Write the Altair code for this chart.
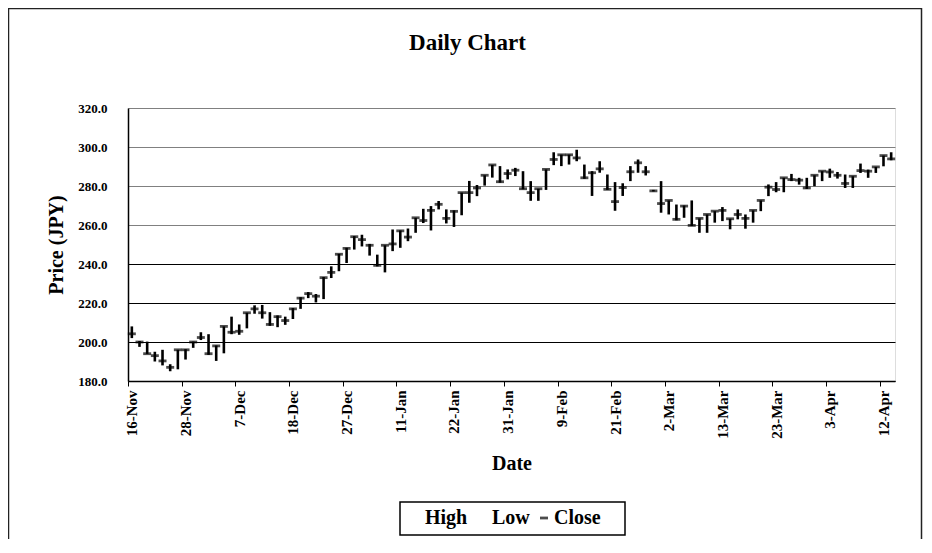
import altair as alt
import pandas as pd
import numpy as np

# ---------------- data ----------------
dates = [
    "16-Nov", "17-Nov", "20-Nov", "21-Nov", "22-Nov", "24-Nov", "27-Nov",
    "28-Nov", "29-Nov", "30-Nov", "1-Dec", "4-Dec", "5-Dec", "6-Dec",
    "7-Dec", "8-Dec", "11-Dec", "12-Dec", "13-Dec", "14-Dec", "15-Dec",
    "18-Dec", "19-Dec", "20-Dec", "21-Dec", "22-Dec", "25-Dec", "26-Dec",
    "27-Dec", "28-Dec", "29-Dec", "4-Jan", "5-Jan", "9-Jan", "10-Jan",
    "11-Jan", "12-Jan", "15-Jan", "16-Jan", "17-Jan", "18-Jan", "19-Jan",
    "22-Jan", "23-Jan", "24-Jan", "25-Jan", "26-Jan", "29-Jan", "30-Jan",
    "31-Jan", "1-Feb", "2-Feb", "5-Feb", "6-Feb", "7-Feb", "8-Feb",
    "9-Feb", "13-Feb", "14-Feb", "15-Feb", "16-Feb", "19-Feb", "20-Feb",
    "21-Feb", "22-Feb", "23-Feb", "26-Feb", "27-Feb", "28-Feb", "1-Mar",
    "2-Mar", "5-Mar", "6-Mar", "7-Mar", "8-Mar", "9-Mar", "12-Mar",
    "13-Mar", "14-Mar", "15-Mar", "16-Mar", "19-Mar", "21-Mar", "22-Mar",
    "23-Mar", "26-Mar", "27-Mar", "28-Mar", "29-Mar", "30-Mar", "2-Apr",
    "3-Apr", "4-Apr", "5-Apr", "6-Apr", "9-Apr", "10-Apr", "11-Apr",
    "12-Apr", "13-Apr",
]

high = [
    208.0, 200.5, 200.2, 195.0, 196.0, 188.6, 196.0, 196.3, 200.2, 205.0,
    204.0, 198.2, 208.0, 213.0, 209.0, 215.0, 218.8, 219.0, 215.3, 213.6,
    213.0, 217.4, 223.0, 225.6, 224.6, 233.3, 238.8, 245.2, 248.3, 254.3,
    255.0, 250.3, 244.8, 249.6, 257.7, 257.2, 258.2, 263.7, 268.3, 269.7,
    272.3, 268.0, 267.5, 276.6, 282.6, 280.5, 285.5, 290.8, 290.2, 288.5,
    289.3, 287.6, 282.5, 278.6, 288.5, 297.3, 296.1, 296.1, 298.6, 291.0,
    287.6, 292.7, 285.9, 282.0, 281.4, 290.2, 293.6, 290.2, 278.0, 282.5,
    272.6, 270.5, 270.0, 272.6, 263.4, 265.4, 267.1, 269.2, 263.2, 268.0,
    265.4, 267.5, 272.6, 280.8, 282.0, 284.2, 286.2, 284.2, 284.2, 285.5,
    287.6, 288.9, 287.2, 285.9, 285.0, 291.5, 288.4, 289.8, 295.6, 297.3,
]

low = [
    202.0, 197.5, 193.9, 190.0, 188.0, 185.0, 186.0, 191.0, 197.0, 201.0,
    193.4, 190.3, 194.2, 204.0, 203.7, 207.0, 214.5, 212.0, 208.3, 207.6,
    208.8, 211.8, 217.0, 222.5, 220.3, 222.0, 232.8, 236.3, 240.5, 247.4,
    249.0, 244.3, 238.8, 235.7, 246.6, 248.3, 251.7, 256.0, 261.0, 257.2,
    268.0, 260.8, 259.0, 265.0, 271.4, 274.8, 280.2, 284.3, 281.7, 283.4,
    285.1, 278.3, 272.4, 272.4, 278.0, 290.7, 290.2, 291.0, 292.7, 283.7,
    274.9, 286.8, 278.0, 267.3, 274.9, 282.5, 286.8, 285.4, 277.2, 266.3,
    265.4, 262.4, 263.7, 259.5, 256.0, 256.0, 261.2, 262.0, 257.8, 262.9,
    258.1, 261.2, 267.1, 274.8, 276.8, 276.8, 282.5, 280.7, 278.5, 279.9,
    282.5, 284.2, 283.8, 279.0, 279.0, 286.7, 284.2, 286.7, 290.1, 293.2,
]

close = [
    204.2, 200.0, 194.0, 193.0, 190.3, 187.0, 196.0, 196.0, 200.0, 202.3,
    194.0, 198.0, 208.0, 205.0, 205.5, 215.0, 217.0, 215.0, 209.0, 213.0,
    211.0, 217.0, 222.5, 224.8, 223.5, 233.0, 235.7, 245.0, 248.0, 254.0,
    252.5, 249.6, 239.3, 249.6, 250.3, 257.0, 253.8, 263.7, 262.3, 267.5,
    270.6, 263.4, 267.0, 276.6, 276.6, 279.0, 285.5, 290.8, 282.2, 286.4,
    288.1, 278.6, 276.6, 278.6, 288.5, 293.6, 296.0, 296.0, 294.4, 284.2,
    286.8, 288.8, 278.3, 272.0, 279.2, 287.3, 291.9, 287.3, 277.5, 271.0,
    272.6, 262.9, 269.7, 259.8, 263.4, 265.4, 267.1, 267.5, 263.2, 265.4,
    263.4, 267.5, 272.6, 279.4, 278.2, 284.2, 283.3, 283.0, 279.0, 285.5,
    287.6, 287.2, 285.5, 281.3, 285.0, 287.9, 287.6, 289.8, 295.6, 293.9,
]

y_ticks = [180, 200, 220, 240, 260, 280, 300, 320]
legend_items = ["High", "Low", "Close"]
chart_title = "Daily Chart"

# ---------------- build ----------------
n = len(dates)
df = pd.DataFrame({
    "date": dates,
    "pos": np.arange(n) + 0.5,
    "high": high,
    "low": low,
    "close": close,
    "series": ["Close"] * n,
})

W, H = 767, 273
FONT = "Liberation Serif"

tick_vals = list(range(0, n, 7))
tick_labels = dates[::7]
label_expr = "[" + ",".join(f"'{d}'" for d in tick_labels) + "][round(datum.value / 7)]"

x_axis = alt.Axis(
    values=tick_vals, labelExpr=label_expr, labelAngle=-90,
    labelOffset=W / n / 2, labelOverlap=False,
    tickSize=5, tickColor="black", tickWidth=1, labelPadding=4,
    labelFont=FONT, labelFontSize=15, labelFontWeight="bold", labelColor="black",
    domainColor="black", domainWidth=1.5, grid=False,
    title="Date", titleFont=FONT, titleFontSize=20, titleFontWeight="bold",
    titleColor="black", titleX=W / 2, titleY=82, titleBaseline="middle",
    titleAlign="center",
)
y_axis = alt.Axis(
    values=y_ticks, format=".1f", ticks=False, labelPadding=21,
    labelFont=FONT, labelFontSize=13, labelFontWeight="bold", labelColor="black",
    grid=True,
    gridColor={"condition": {"test": "datum.value >= 260", "value": "#808080"}, "value": "black"},
    gridWidth=1, domainColor="black", domainWidth=1.5,
    title="Price (JPY)", titleFont=FONT, titleFontSize=20, titleFontWeight="bold",
    titleColor="black", titleX=-72, titleY=H / 2, titleAngle=270,
    titleBaseline="middle", titleAlign="center",
)
x_scale = alt.Scale(domain=[0, n], nice=False, zero=False)
y_scale = alt.Scale(domain=[180, 320], nice=False, zero=False)

base = alt.Chart(df)
one = pd.DataFrame({"f": [0]})

# outer chart-area frame
frame = alt.Chart(one).mark_rect(
    fill=None, stroke="#222222", strokeWidth=1.5
).encode(
    x=alt.value(-119.5), x2=alt.value(793.5),
    y=alt.value(-99.5), y2=alt.value(700),
)

# chart title
title_mark = alt.Chart(pd.DataFrame({"t": [chart_title]})).mark_text(
    font=FONT, fontSize=23, fontWeight="bold", color="black",
    align="center", baseline="middle",
).encode(x=alt.value(339.5), y=alt.value(-65), text="t:N")

# legend box
legend_box = alt.Chart(one).mark_rect(
    fill="white", stroke="black", strokeWidth=1.5
).encode(
    x=alt.value(272), x2=alt.value(497),
    y=alt.value(394), y2=alt.value(427),
)

rules = base.mark_rule(color="black", strokeWidth=2.6).encode(
    x=alt.X("pos:Q", scale=x_scale, axis=x_axis),
    y=alt.Y("low:Q", scale=y_scale, axis=y_axis),
    y2="high:Q",
)

ticks = base.mark_tick(orient="horizontal", size=8, thickness=2.8).encode(
    x=alt.X("pos:Q", scale=x_scale, axis=x_axis),
    y=alt.Y("close:Q", scale=y_scale, axis=y_axis),
    color=alt.Color(
        "series:N",
        scale=alt.Scale(domain=legend_items, range=["transparent", "transparent", "black"]),
        legend=alt.Legend(
            title=None, orient="none", legendX=277, legendY=400,
            direction="horizontal", padding=0,
            labelFont=FONT, labelFontSize=20, labelFontWeight="bold",
            labelColor="black", symbolType="M-1,-0.35H1V0.35H-1Z", symbolSize=64,
            symbolStrokeWidth=0, columnPadding=4, labelOffset=0,
        ),
    ),
)

chart = alt.layer(frame, title_mark, legend_box, rules, ticks).properties(
    width=W, height=H,
    autosize=alt.AutoSizeParams(type="none"),
    padding={"left": 120, "top": 100, "right": 28, "bottom": 158},
).configure_view(
    stroke="#808080", strokeWidth=1,
).configure(background="white")

chart.save("out.html", embed_options={"renderer": "svg", "actions": False})
